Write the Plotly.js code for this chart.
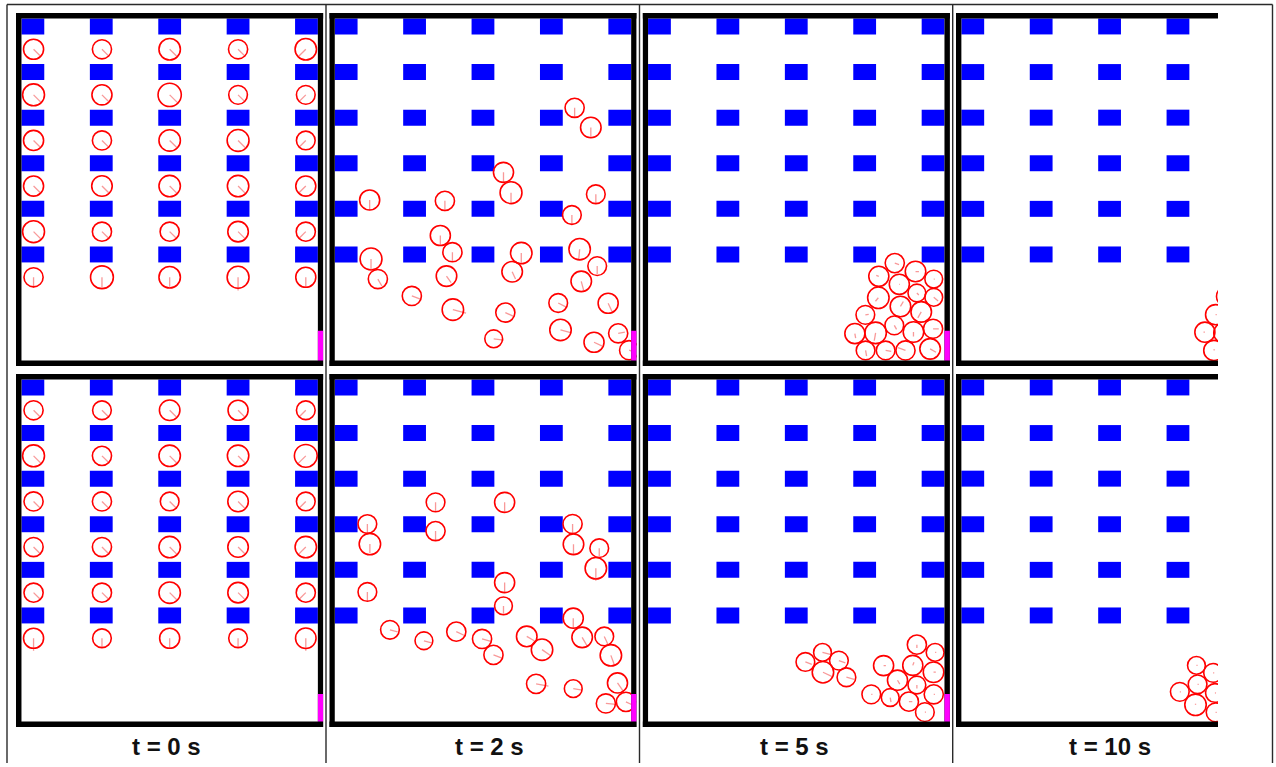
<!DOCTYPE html>
<html><head><meta charset="utf-8">
<script src="https://cdn.plot.ly/plotly-3.0.1.min.js"></script>
<style>html,body{margin:0;padding:0;background:#fff;overflow:hidden}#chart{width:1276px;height:767px}</style>
</head><body><div id="chart"></div>
<script>
// ---------------- DATA (metres; x from left wall, y from floor) ----------------
const timeLabels = ['t = 0 s', 't = 2 s', 't = 5 s', 't = 10 s'];
const roomWidth = 13, roomHeight = 15;
const obstacleX = [0, 3, 6, 9, 12];
const obstacleY = [14.3, 12.3, 10.3, 8.3, 6.3, 4.3];
const obstacleW = 1.0, obstacleH = 0.7;
const exitHeight = [1.3, 1.2];           // per simulation row

// row 1 (upper simulation)
const r1t0_x = [0.53,3.53,6.5,9.5,12.47, 0.53,3.53,6.5,9.5,12.47, 0.53,3.53,6.5,9.5,12.47, 0.53,3.53,6.5,9.5,12.47, 0.53,3.53,6.5,9.5,12.47, 0.53,3.53,6.5,9.5,12.47];
const r1t0_y = [13.65,13.65,13.65,13.65,13.65, 11.65,11.65,11.65,11.65,11.65, 9.65,9.65,9.65,9.65,9.65, 7.65,7.65,7.65,7.65,7.65, 5.65,5.65,5.65,5.65,5.65, 3.65,3.65,3.65,3.65,3.65];
const r1t0_r = [0.44,0.42,0.47,0.42,0.47, 0.48,0.44,0.51,0.41,0.41, 0.44,0.42,0.47,0.48,0.41, 0.44,0.45,0.47,0.47,0.44, 0.48,0.42,0.42,0.45,0.42, 0.42,0.50,0.47,0.48,0.44];
const r1t0_a = [-45,-45,-45,-45,-135, -45,-45,-45,-45,-135, -45,-45,-45,-45,-135, -45,-45,-45,-45,-135, -45,-45,-45,-45,-135, -90,-90,-90,-90,-90];
const r1t0_v = [0.45,0.44,0.47,0.44,0.47, 0.48,0.44,0.5,0.42,0.42, 0.45,0.43,0.47,0.48,0.42, 0.45,0.45,0.47,0.47,0.45, 0.48,0.43,0.43,0.45,0.43, 0.47,0.45,0.42,0.58,0.44];

const r1t2_x = [10.52,11.23,7.40,7.73,11.45,1.53,4.83,10.40,4.63,5.16,1.59,8.18,10.74,1.89,4.90,7.78,11.51,10.81,3.38,5.18,7.48,9.80,11.99,9.90,6.97,11.37,12.43,12.91];
const r1t2_y = [11.08,10.22,8.25,7.36,7.29,7.04,7.00,6.38,5.48,4.75,4.45,4.71,4.88,3.57,3.70,3.89,4.14,3.47,2.83,2.23,2.10,2.52,2.51,1.34,0.95,0.80,1.19,0.45];
const r1t2_r = [0.42,0.45,0.44,0.48,0.41,0.44,0.42,0.41,0.44,0.42,0.48,0.47,0.47,0.42,0.45,0.45,0.41,0.45,0.42,0.47,0.42,0.41,0.44,0.47,0.39,0.44,0.42,0.42];
const r1t2_a = [-90,-90,-90,-90,-90,-90,-90,-90,-90,-90,-90,-90,-95,-60,-55,-65,-90,-75,-20,-15,-25,-27,-65,-15,-7,-25,10,-20];
const r1t2_v = [0.40,0.45,0.45,0.45,0.40,0.45,0.45,0.40,0.45,0.40,0.45,0.45,0.45,0.35,0.35,0.35,0.35,0.40,0.40,0.60,0.45,0.40,0.45,0.50,0.45,0.40,0.30,0.30];

const r1t5_x = [10.82,11.73,10.12,12.53,11.02,11.79,10.10,12.53,11.07,11.98,9.53,10.80,11.64,12.50,9.07,9.98,9.54,10.42,11.29,12.37];
const r1t5_y = [4.27,3.90,3.69,3.57,3.34,2.96,2.75,2.77,2.37,2.13,2.00,1.54,1.25,1.39,1.18,1.21,0.44,0.44,0.44,0.51];
const r1t5_r = [0.42,0.45,0.44,0.39,0.44,0.39,0.47,0.39,0.45,0.45,0.41,0.41,0.45,0.42,0.44,0.47,0.41,0.41,0.42,0.45];
const r1t5_a = [-20,0,160,0,0,-45,-130,-40,60,-120,10,-60,-90,0,-80,-100,-80,-10,160,-30];
const r1t5_v = [0.2,0.15,0.12,0.04,0.03,0.12,0.2,0.25,0.25,0.3,0.15,0.2,0.2,0.25,0.2,0.35,0.25,0.25,0.35,0.3];

const r1t10_x = [11.63,11.15,10.68,11.51,11.07];
const r1t10_y = [2.81,2.01,1.24,1.21,0.44];
const r1t10_r = [0.44,0.44,0.44,0.44,0.44];
const r1t10_a = [0,0,180,0,60];
const r1t10_v = [0.05,0.05,0.06,0.05,0.06];

// row 2 (lower simulation)
const r2t0_x = r1t0_x.slice();
const r2t0_y = r1t0_y.slice();
const r2t0_r = [0.42,0.41,0.45,0.44,0.41, 0.48,0.42,0.47,0.47,0.50, 0.42,0.42,0.41,0.45,0.41, 0.42,0.42,0.47,0.45,0.47, 0.42,0.42,0.47,0.45,0.42, 0.44,0.41,0.44,0.41,0.45];
const r2t0_a = r1t0_a.slice();
const r2t0_v = [0.43,0.42,0.45,0.44,0.42, 0.48,0.43,0.47,0.47,0.5, 0.43,0.43,0.42,0.45,0.42, 0.43,0.43,0.47,0.45,0.47, 0.43,0.43,0.47,0.45,0.43, 0.55,0.42,0.44,0.42,0.55];

const r2t2_x = [4.42,7.45,1.43,4.42,10.43,1.54,10.47,11.60,11.45,7.45,1.43,7.40,10.46,2.42,3.91,5.33,6.46,6.96,8.42,9.09,10.85,11.82,12.11,8.83,10.46,12.40,11.89,12.77];
const r2t2_y = [9.61,9.61,8.66,8.35,8.66,7.78,7.77,7.60,6.72,6.09,5.68,5.07,4.53,4.02,3.54,3.94,3.62,2.92,3.73,3.15,3.69,3.73,2.90,1.65,1.44,1.69,0.79,0.86];
const r2t2_r = [0.41,0.44,0.41,0.42,0.42,0.47,0.45,0.41,0.47,0.44,0.41,0.39,0.44,0.41,0.39,0.42,0.42,0.42,0.45,0.47,0.45,0.41,0.47,0.42,0.39,0.44,0.42,0.42];
const r2t2_a = [-90,-90,-90,-90,-90,-90,-90,-90,-90,-90,-90,-90,-90,-15,-15,-25,-15,-20,-30,-35,-60,-65,-70,-10,-10,-55,-5,-25];
const r2t2_v = [0.4,0.4,0.4,0.4,0.45,0.4,0.45,0.35,0.55,0.45,0.4,0.35,0.45,0.35,0.35,0.45,0.4,0.4,0.4,0.45,0.45,0.4,0.45,0.55,0.4,0.4,0.45,0.35];

const r2t5_x = [6.90,7.65,8.37,7.67,8.70,11.79,12.59,10.33,11.61,12.52,10.94,11.79,9.79,10.62,11.44,12.53,12.14];
const r2t5_y = [2.61,3.03,2.67,2.16,1.94,3.37,3.03,2.45,2.46,2.16,1.81,1.60,1.19,1.05,0.87,1.19,0.41];
const r2t5_r = [0.41,0.39,0.41,0.47,0.41,0.42,0.39,0.44,0.44,0.45,0.44,0.39,0.41,0.39,0.42,0.42,0.41];
const r2t5_a = [-20,-15,-20,-25,-15,-90,0,0,70,0,-60,-90,0,-80,0,0,0];
const r2t5_v = [0.3,0.35,0.3,0.45,0.35,0.15,0.05,0.1,0.15,0.1,0.2,0.15,0.05,0.2,0.15,0.05,0.05];

const r2t10_x = [10.31,11.04,10.36,9.58,10.27,11.12,11.15];
const r2t10_y = [2.46,2.13,1.63,1.30,0.73,1.25,0.40];
const r2t10_r = [0.39,0.41,0.41,0.41,0.47,0.41,0.41];
const r2t10_a = [0,0,0,0,90,0,0];
const r2t10_v = [0.05,0.05,0.05,0.05,0.05,0.05,0.05];

// ---------------- LAYOUT GEOMETRY ----------------
const W = 1276, H = 767;
const pxPerM = 22.8;
const wall = 0.24;
const panelLeftPx = [16, 329.3, 642.6, 955.9];
const panelTopPx = [13, 374];
const clipRightPx = 1218;
const labelCenterPx = [166.5, 489.5, 794.5, 1110];
const labelYPx = 746.5;

const panels = [
  {row:0,col:0,x:r1t0_x,y:r1t0_y,r:r1t0_r,a:r1t0_a,v:r1t0_v},
  {row:0,col:1,x:r1t2_x,y:r1t2_y,r:r1t2_r,a:r1t2_a,v:r1t2_v},
  {row:0,col:2,x:r1t5_x,y:r1t5_y,r:r1t5_r,a:r1t5_a,v:r1t5_v},
  {row:0,col:3,x:r1t10_x,y:r1t10_y,r:r1t10_r,a:r1t10_a,v:r1t10_v},
  {row:1,col:0,x:r2t0_x,y:r2t0_y,r:r2t0_r,a:r2t0_a,v:r2t0_v},
  {row:1,col:1,x:r2t2_x,y:r2t2_y,r:r2t2_r,a:r2t2_a,v:r2t2_v},
  {row:1,col:2,x:r2t5_x,y:r2t5_y,r:r2t5_r,a:r2t5_a,v:r2t5_v},
  {row:1,col:3,x:r2t10_x,y:r2t10_y,r:r2t10_r,a:r2t10_a,v:r2t10_v}
];

const layout = {
  width: W, height: H,
  margin: {l:0, r:0, t:0, b:0, pad:0},
  paper_bgcolor: '#ffffff', plot_bgcolor: '#ffffff',
  showlegend: false,
  shapes: [], annotations: []
};
const traces = [];
const obstacleShapes = [], circleShapes = [], wallShapes = [];

panels.forEach((p, i) => {
  const n = i + 1;
  const xa = 'x' + n, ya = 'y' + n;
  const leftPx = panelLeftPx[p.col];
  const fullRightPx = leftPx + (roomWidth + 2*wall) * pxPerM;
  const rightPx = Math.min(fullRightPx, clipRightPx);
  const topPx = panelTopPx[p.row];
  const botPx = topPx + (roomHeight + 2*wall) * pxPerM;
  layout['xaxis' + n] = {
    domain: [leftPx / W, rightPx / W],
    range: [-wall, -wall + (rightPx - leftPx) / pxPerM],
    anchor: ya, visible: false, fixedrange: true, showgrid: false, zeroline: false
  };
  layout['yaxis' + n] = {
    domain: [1 - botPx / H, 1 - topPx / H],
    range: [-wall, roomHeight + wall],
    anchor: xa, visible: false, fixedrange: true, showgrid: false, zeroline: false
  };

  // heading / velocity lines
  const lx = [], ly = [];
  for (let k = 0; k < p.x.length; k++) {
    const ang = p.a[k] * Math.PI / 180;
    lx.push(p.x[k], p.x[k] + p.v[k] * Math.cos(ang), null);
    ly.push(p.y[k], p.y[k] + p.v[k] * Math.sin(ang), null);
  }
  traces.push({
    type: 'scatter', mode: 'lines', x: lx, y: ly, xaxis: xa, yaxis: ya,
    line: {color: 'rgba(245,110,110,0.7)', width: 1.3},
    hoverinfo: 'skip', showlegend: false
  });

  // obstacles
  obstacleY.forEach(oy => obstacleX.forEach(ox => {
    obstacleShapes.push({type:'rect', xref:xa, yref:ya, x0:ox, x1:ox+obstacleW, y0:oy, y1:oy+obstacleH,
      fillcolor:'#0000ff', line:{width:0}, layer:'above'});
  }));

  // pedestrians
  for (let k = 0; k < p.x.length; k++) {
    circleShapes.push({type:'circle', xref:xa, yref:ya,
      x0:p.x[k]-p.r[k], x1:p.x[k]+p.r[k], y0:p.y[k]-p.r[k], y1:p.y[k]+p.r[k],
      line:{color:'#ff0000', width:1.6}, fillcolor:'rgba(0,0,0,0)', layer:'above'});
  }

  // walls
  const wcol = '#000000';
  wallShapes.push({type:'rect', xref:xa, yref:ya, x0:-wall, x1:0, y0:-wall, y1:roomHeight+wall, fillcolor:wcol, line:{width:0}});
  wallShapes.push({type:'rect', xref:xa, yref:ya, x0:roomWidth, x1:roomWidth+wall, y0:-wall, y1:roomHeight+wall, fillcolor:wcol, line:{width:0}});
  wallShapes.push({type:'rect', xref:xa, yref:ya, x0:-wall, x1:roomWidth+wall, y0:roomHeight, y1:roomHeight+wall, fillcolor:wcol, line:{width:0}});
  wallShapes.push({type:'rect', xref:xa, yref:ya, x0:-wall, x1:roomWidth+wall, y0:-wall, y1:0, fillcolor:wcol, line:{width:0}});
  // exit
  wallShapes.push({type:'rect', xref:xa, yref:ya, x0:roomWidth, x1:roomWidth+wall, y0:0, y1:exitHeight[p.row], fillcolor:'#ff00ff', line:{width:0}});
});

// thin frame lines (paper)
const frame = [];
const fl = {color:'#2a2a2a', width:1.4};
frame.push({type:'line', xref:'paper', yref:'paper', x0:7/W, x1:1272.5/W, y0:1-4.5/H, y1:1-4.5/H, line:fl});
[7, 326, 639.5, 952.7, 1272.5].forEach(xp => {
  frame.push({type:'line', xref:'paper', yref:'paper', x0:xp/W, x1:xp/W, y0:1-4.5/H, y1:1-763/H, line:fl});
});

layout.shapes = obstacleShapes.concat(circleShapes, wallShapes, frame);

timeLabels.forEach((t, c) => {
  layout.annotations.push({
    xref:'paper', yref:'paper', x:labelCenterPx[c]/W, y:1-labelYPx/H,
    xanchor:'center', yanchor:'middle', showarrow:false,
    text:'<b>' + t + '</b>',
    font:{family:'"Liberation Sans", Arial, Helvetica, sans-serif', size:24, color:'#111111'}
  });
});

Plotly.newPlot('chart', traces, layout, {displayModeBar:false, staticPlot:true});
</script>
</body></html>
